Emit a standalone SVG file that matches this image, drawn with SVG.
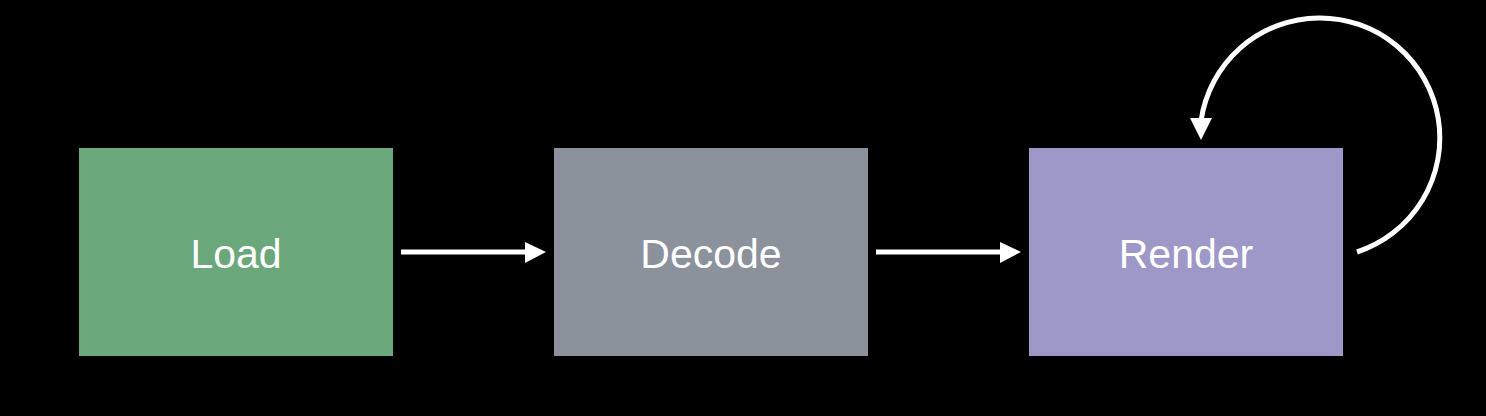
<svg xmlns="http://www.w3.org/2000/svg" width="1486" height="416" viewBox="0 0 1486 416">
<style>
.node text{font-family:"Liberation Sans",Arial,sans-serif;font-size:41px;fill:#ffffff;text-anchor:middle}
.conn{stroke:#ffffff;stroke-width:5;fill:none}
.head{fill:#ffffff}
</style>
<rect width="1486" height="416" fill="#000000"/>
<g id="load" class="node">
<rect x="79" y="148" width="314" height="208" fill="#6aa87c"/>
<text x="236" y="268">Load</text>
</g>
<g id="decode" class="node">
<rect x="554" y="148" width="314" height="208" fill="#8b929c"/>
<text x="711" y="268">Decode</text>
</g>
<g id="render" class="node">
<rect x="1029" y="148" width="314" height="208" fill="#9e98c8"/>
<text x="1186" y="268">Render</text>
</g>
<g id="connectors">
<line class="conn" x1="401" y1="252" x2="527" y2="252"/>
<polygon class="head" points="525,242 546,252 525,263"/>
<line class="conn" x1="876" y1="252" x2="1002" y2="252"/>
<polygon class="head" points="1000,242 1021,252 1000,263"/>
<path class="conn" d="M1357 252 A120 120 0 1 0 1201 121"/>
<polygon class="head" points="1190,118 1212,118 1201,140"/>
</g>
</svg>
